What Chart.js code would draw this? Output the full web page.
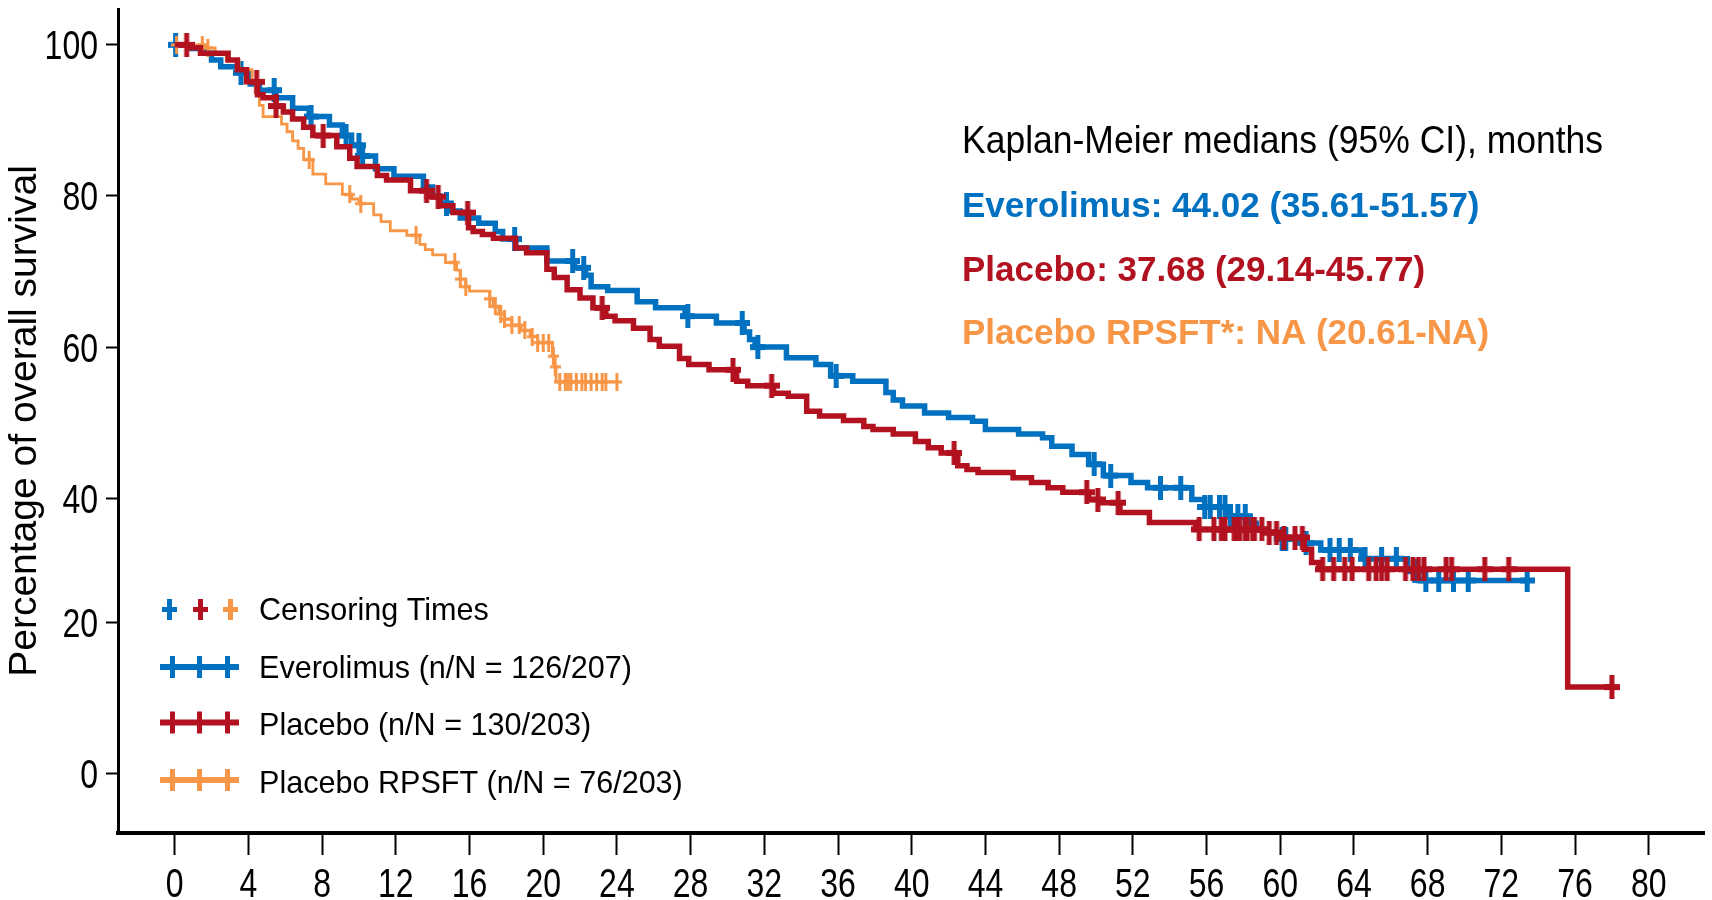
<!DOCTYPE html>
<html>
<head>
<meta charset="utf-8">
<title>Kaplan-Meier overall survival</title>
<script src="https://cdn.jsdelivr.net/npm/chart.js@4/dist/chart.umd.min.js"></script>
<style>
  html, body { margin: 0; padding: 0; background: #ffffff; overflow: hidden; }
  #wrap { width: 1712px; height: 900px; }
</style>
</head>
<body>
<div id="wrap"><canvas id="c" width="1712" height="900"></canvas></div>
<script>
// ---------------- DATA ----------------
const xTickLabels = [0, 4, 8, 12, 16, 20, 24, 28, 32, 36, 40, 44, 48, 52, 56, 60, 64, 68, 72, 76, 80];
const yTickLabels = [0, 20, 40, 60, 80, 100];

const yAxisTitle = 'Percentage of overall survival';
const censorLegendLabel = 'Censoring Times';
const seriesLabels = ['Everolimus (n/N = 126/207)', 'Placebo (n/N = 130/203)', 'Placebo RPSFT (n/N = 76/203)'];
const medianTitle = 'Kaplan-Meier medians (95% CI), months';
const medianLines = ['Everolimus: 44.02 (35.61-51.57)', 'Placebo: 37.68 (29.14-45.77)', 'Placebo RPSFT*: NA (20.61-NA)'];

// Everolimus: step times (months) and survival (%) after each step
const everolimusTimes = [0, 0.9, 1.7, 2.0, 2.5, 3.5, 4.1, 4.6, 5.5, 6.4, 7.3, 8.4, 9.1, 9.6, 10.1, 10.9, 11.9, 13.5, 14.0, 14.4,
  14.9, 15.5, 16.5, 17.4, 17.8, 18.5, 20.2, 21.7, 22.3, 22.6, 23.5, 25.1, 26.1, 27.7, 29.4, 30.9, 31.2, 31.5, 33.2, 34.8,
  35.6, 36.8, 38.6, 39.0, 39.5, 40.7, 42.0, 43.3, 44.0, 45.8, 47.1, 47.6, 48.7, 49.6, 50.4, 51.9, 52.8, 55.2, 55.9, 57.1,
  58.3, 58.7, 59.2, 59.8, 61.0, 62.2, 64.4, 66.9, 67.5, 73.4];
const everolimusSurvival = [100, 99.5, 98.9, 98.0, 97.1, 96.3, 94.8, 94.0, 93.0, 91.6, 90.5, 89.4, 88.0, 86.7, 85.3, 83.6, 82.6, 81.2, 80.0, 79.0,
  78.0, 77.1, 76.4, 75.3, 74.3, 73.1, 71.4, 70.5, 69.5, 68.0, 67.5, 66.0, 65.2, 64.1, 63.2, 62.0, 61.0, 60.0, 58.6, 57.7,
  56.2, 55.5, 54.0, 53.0, 52.2, 51.3, 50.7, 50.2, 49.1, 48.5, 48.0, 46.9, 45.8, 44.5, 43.0, 42.1, 41.4, 39.8, 38.6, 37.1,
  36.0, 35.0, 34.5, 33.5, 32.8, 31.7, 30.3, 28.3, 26.8, 26.8];
const everolimusCensorTimes = [0.05, 3.6, 5.4, 7.4, 9.3, 10.0, 10.2, 14.75, 18.45, 21.6, 22.2, 27.85, 30.8, 31.65, 35.9, 49.9, 50.8,
  53.5, 54.6, 55.9, 56.2, 56.7, 57.0, 57.3, 57.7, 58.1, 60.1, 60.3, 61.4, 62.7, 63.2, 63.8, 64.6, 65.5, 66.3, 67.3, 67.9,
  68.6, 69.4, 70.2, 73.4];

// Placebo
const placeboTimes = [0, 0.9, 1.4, 2.9, 3.4, 3.9, 4.5, 4.8, 5.5, 5.9, 6.4, 7.0, 7.5, 8.8, 9.5, 9.9, 11.0, 11.5, 12.8, 13.7,
  14.4, 15.1, 15.95, 16.2, 16.7, 17.3, 18.5, 19.1, 20.2, 20.6, 21.3, 22.0, 22.7, 23.4, 23.9, 24.9, 25.8, 26.3, 27.4, 27.9,
  29.0, 30.5, 31.1, 32.5, 33.3, 34.3, 35.0, 36.3, 37.4, 37.9, 39.0, 40.2, 40.9, 41.6, 42.5, 43.0, 43.6, 45.5, 46.5, 47.4,
  48.2, 49.6, 50.2, 51.3, 52.9, 55.4, 59.3, 60.0, 61.3, 61.7, 62.1, 75.6, 78.0];
const placeboSurvival = [100, 99.6, 98.9, 98.0, 96.7, 95.1, 93.4, 93.0, 91.9, 91.1, 90.2, 89.1, 88.0, 86.5, 85.0, 83.9, 82.7, 82.1, 80.7, 79.9,
  78.7, 77.8, 75.8, 75.3, 74.9, 74.4, 73.1, 72.5, 70.3, 69.2, 67.6, 66.5, 65.2, 64.1, 63.5, 62.5, 61.0, 60.1, 58.5, 57.7,
  57.0, 55.5, 54.9, 53.9, 53.5, 51.5, 50.9, 50.3, 49.5, 49.1, 48.5, 47.5, 46.7, 46.0, 44.3, 43.8, 43.4, 42.7, 42.1, 41.4,
  40.8, 39.8, 39.3, 37.7, 36.1, 35.0, 34.5, 33.7, 31.8, 29.7, 28.6, 11.5, 11.5];
const placeboCensorTimes = [0.65, 4.45, 5.5, 8.06, 13.67, 14.3, 15.9, 23.2, 30.3, 32.4, 42.3, 49.5, 50.1, 51.2, 55.6, 56.4, 56.8,
  57.0, 57.5, 57.7, 57.8, 58.1, 58.2, 58.5, 58.6, 59.0, 59.4, 59.8, 60.2, 60.8, 61.2, 62.3, 62.9, 63.5, 63.9, 64.8, 65.2,
  65.5, 65.8, 66.8, 67.2, 67.5, 67.8, 69.0, 69.3, 71.1, 72.4, 78.0];

// Placebo RPSFT
const rpsftTimes = [0, 1.6, 2.2, 2.8, 3.5, 4.2, 4.4, 4.6, 4.8, 5.8, 6.1, 6.4, 6.7, 7.0, 7.5, 8.2, 9.1, 9.6, 10.0, 10.8,
  11.2, 11.7, 12.6, 13.3, 13.6, 14.0, 14.7, 15.3, 15.5, 15.8, 16.0, 17.1, 17.3, 17.6, 17.9, 18.3, 18.8, 19.3, 19.7, 20.5,
  20.6, 20.7, 24.0];
const rpsftSurvival = [100, 99.6, 99.0, 98.0, 96.7, 95.2, 93.5, 92.0, 90.5, 89.5, 88.5, 87.3, 86.3, 84.8, 82.9, 81.6, 80.2, 79.6, 79.0, 77.5,
  76.6, 75.4, 74.8, 73.6, 72.9, 72.2, 71.2, 70.2, 69.0, 68.0, 67.4, 66.4, 65.4, 64.4, 63.7, 62.9, 62.2, 61.4, 60.6, 58.8,
  57.4, 55.4, 55.4];
const rpsftCensorTimes = [0.1, 1.5, 1.8, 7.3, 9.5, 10.1, 13.1, 15.2, 15.5, 15.8, 17.1, 17.4, 17.7, 17.9, 18.3, 18.7, 19.0, 19.4,
  19.7, 20.0, 20.3, 20.55, 20.65, 20.9, 21.2, 21.35, 21.5, 21.8, 22.1, 22.3, 22.6, 22.9, 23.2, 23.4, 24.0];

// ---------------- STYLE ----------------
const COLORS = { everolimus: '#0070C0', placebo: '#B2121F', rpsft: '#F79646' };
const FONT_REG = "'Liberation Sans', Arial, Helvetica, sans-serif";

Chart.defaults.font.family = FONT_REG;
Chart.defaults.color = '#000';

// draws text horizontally condensed (the reference uses a narrow face)
function condensedText(ctx, text, x, y, sx, align) {
  ctx.save();
  ctx.translate(x, y);
  ctx.scale(sx, 1);
  ctx.textAlign = align;
  ctx.fillText(text, 0, 0);
  ctx.restore();
}

// plus-shaped censoring marks (canvas images used as point styles)
function plusMark(color, w, h, hThick, vThick) {
  const c = document.createElement('canvas');
  c.width = w; c.height = h;
  const g = c.getContext('2d');
  g.fillStyle = color;
  g.fillRect(0, (h - hThick) / 2, w, hThick);
  g.fillRect((w - vThick) / 2, 0, vThick, h);
  return c;
}
const marks = {
  everolimus: plusMark(COLORS.everolimus, 15, 24, 6, 5),
  placebo: plusMark(COLORS.placebo, 16, 24, 6, 5),
  rpsft: plusMark(COLORS.rpsft, 11, 18, 3, 3)
};

// ---------------- Y scale reproducing the reference's uneven 20-40 interval ----------------
class SegmentedLinearScale extends Chart.LinearScale {
  _toU(v) {
    const r = this.options.compressedRange, w = this.options.compressedWeight;
    if (v <= r[0]) return v;
    if (v <= r[1]) return r[0] + (v - r[0]) * w;
    return r[0] + (r[1] - r[0]) * w + (v - r[1]);
  }
  _fromU(u) {
    const r = this.options.compressedRange, w = this.options.compressedWeight;
    const ub = r[0] + (r[1] - r[0]) * w;
    if (u <= r[0]) return u;
    if (u <= ub) return r[0] + (u - r[0]) / w;
    return r[1] + (u - ub);
  }
  getPixelForValue(value) {
    if (value === null || value === undefined || isNaN(value)) return NaN;
    const u0 = this._toU(this.min), u1 = this._toU(this.max);
    return this.getPixelForDecimal((this._toU(value) - u0) / (u1 - u0));
  }
  getValueForPixel(pixel) {
    const u0 = this._toU(this.min), u1 = this._toU(this.max);
    return this._fromU(u0 + this.getDecimalForPixel(pixel) * (u1 - u0));
  }
}
SegmentedLinearScale.id = 'segmentedLinear';
SegmentedLinearScale.defaults = Chart.LinearScale.defaults;
Chart.register(SegmentedLinearScale);

// ---------------- datasets ----------------
function stepPoints(times, surv) {
  return times.map((t, i) => ({ x: t, y: surv[i] }));
}
function censorPoints(cTimes, times, surv) {
  return cTimes.map(t => {
    let v = surv[0];
    for (let i = 0; i < times.length; i++) if (times[i] <= t) v = surv[i];
    return { x: t, y: v };
  });
}
function curve(label, times, surv, color, width, order) {
  return { label, data: stepPoints(times, surv), stepped: true, borderColor: color, backgroundColor: color,
    borderWidth: width, pointRadius: 0, pointHoverRadius: 0, fill: false, tension: 0,
    borderJoinStyle: 'miter', borderCapStyle: 'butt', order };
}
function censors(label, cTimes, times, surv, mark, order) {
  return { label, data: censorPoints(cTimes, times, surv), showLine: false, pointStyle: mark,
    pointRadius: 8, pointHoverRadius: 8, borderWidth: 0, order };
}

const datasets = [
  curve(seriesLabels[1], placeboTimes, placeboSurvival, COLORS.placebo, 5.5, 2),
  censors(seriesLabels[1] + ' censored', placeboCensorTimes, placeboTimes, placeboSurvival, marks.placebo, 1),
  curve(seriesLabels[2], rpsftTimes, rpsftSurvival, COLORS.rpsft, 2.8, 4),
  censors(seriesLabels[2] + ' censored', rpsftCensorTimes, rpsftTimes, rpsftSurvival, marks.rpsft, 3),
  curve(seriesLabels[0], everolimusTimes, everolimusSurvival, COLORS.everolimus, 5.5, 6),
  censors(seriesLabels[0] + ' censored', everolimusCensorTimes, everolimusTimes, everolimusSurvival, marks.everolimus, 5)
];

// ---------------- tick labels (condensed, positioned by the chart's scales) ----------------
const tickLabelPlugin = {
  id: 'condensedTickLabels',
  afterDraw(chart) {
    const ctx = chart.ctx;
    const xs = chart.scales.x, ys = chart.scales.y;
    ctx.save();
    ctx.fillStyle = '#000';
    ctx.font = '40px ' + FONT_REG;
    ctx.textBaseline = 'alphabetic';
    xs.ticks.forEach(t => condensedText(ctx, String(t.value), xs.getPixelForValue(t.value), 897, 0.8, 'center'));
    ys.ticks.forEach(t => condensedText(ctx, String(t.value), 98, ys.getPixelForValue(t.value) + 14.5, 0.8, 'right'));
    ctx.restore();
  }
};

// ---------------- annotation + legend plugin ----------------
const annotationPlugin = {
  id: 'kmAnnotations',
  afterDraw(chart) {
    const ctx = chart.ctx;
    ctx.save();
    ctx.textBaseline = 'alphabetic';

    // medians block
    ctx.fillStyle = '#000';
    ctx.font = '39px ' + FONT_REG;
    condensedText(ctx, medianTitle, 962, 153, 0.91, 'left');
    const medColors = [COLORS.everolimus, COLORS.placebo, COLORS.rpsft];
    const medY = [216.5, 281, 344];
    ctx.font = 'bold 35px ' + FONT_REG;
    medianLines.forEach((t, i) => { ctx.fillStyle = medColors[i]; condensedText(ctx, t, 962, medY[i], 1.0, 'left'); });

    // legend
    const textX = 259;
    ctx.font = '32px ' + FONT_REG;
    ctx.fillStyle = '#000';
    const small = [plusMark(COLORS.everolimus, 15, 21, 5, 5), plusMark(COLORS.placebo, 15, 21, 5, 5), plusMark(COLORS.rpsft, 15, 21, 5, 5)];
    const smallX = [169, 200.5, 230.5];
    small.forEach((m, i) => ctx.drawImage(m, Math.round(smallX[i] - m.width / 2), Math.round(609 - m.height / 2)));
    condensedText(ctx, censorLegendLabel, textX, 620, 0.955, 'left');

    const rowY = [667, 722.5, 780];
    const rowText = [677.5, 735, 793];
    const rowColors = [COLORS.everolimus, COLORS.placebo, COLORS.rpsft];
    rowY.forEach((y, i) => {
      ctx.fillStyle = rowColors[i];
      ctx.fillRect(160, y - 3, 79, 6);
      [172, 199.5, 227].forEach(cx => ctx.fillRect(Math.round(cx - 2.5), y - 11, 5, 22));
      ctx.fillStyle = '#000';
      condensedText(ctx, seriesLabels[i], textX, rowText[i], 0.955, 'left');
    });
    ctx.restore();
  }
};

// ---------------- chart ----------------
new Chart(document.getElementById('c').getContext('2d'), {
  type: 'line',
  data: { datasets },
  plugins: [tickLabelPlugin, annotationPlugin],
  options: {
    responsive: false,
    animation: false,
    devicePixelRatio: 1,
    events: [],
    layout: { padding: { top: 9, right: 7, bottom: 0, left: 0 } },
    plugins: { legend: { display: false }, tooltip: { enabled: false }, title: { display: false } },
    scales: {
      x: {
        type: 'linear',
        min: -3.075,
        max: 82.997,
        afterBuildTicks: s => { s.ticks = xTickLabels.map(v => ({ value: v })); },
        afterFit: s => { s.height = 67; s.paddingLeft = 0; s.paddingRight = 0; },
        grid: { drawOnChartArea: false, drawTicks: true, tickLength: 22, tickWidth: 2, tickColor: '#000' },
        border: { display: true, color: '#000', width: 4 },
        ticks: { display: false, autoSkip: false, maxRotation: 0, minRotation: 0 }
      },
      y: {
        type: 'segmentedLinear',
        min: -7.81,
        max: 104.74,
        compressedRange: [20, 40],
        compressedWeight: 0.824,
        afterBuildTicks: s => { s.ticks = yTickLabels.map(v => ({ value: v })); },
        afterFit: s => { s.width = 118; s.paddingTop = 0; s.paddingBottom = 0; },
        grid: { drawOnChartArea: false, drawTicks: true, tickLength: 12, tickWidth: 2, tickColor: '#000' },
        border: { display: true, color: '#000', width: 3 },
        ticks: { display: false },
        title: { display: true, text: yAxisTitle, color: '#000', font: { family: FONT_REG, size: 39 },
          padding: { top: 2, bottom: 0 } }
      }
    }
  }
});
</script>
</body>
</html>
